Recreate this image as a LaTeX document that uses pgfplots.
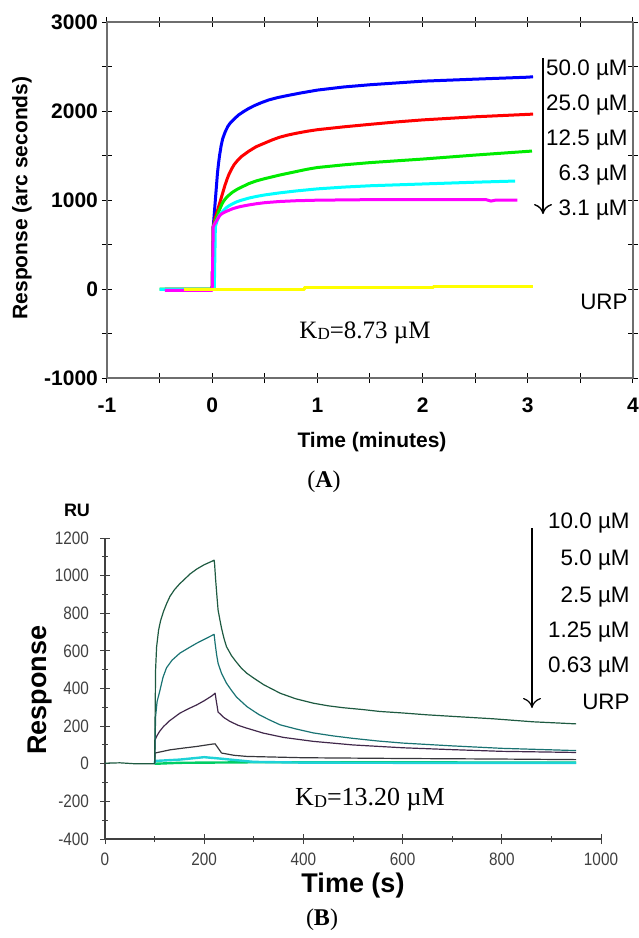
\documentclass[border=0pt]{standalone}
\usepackage{fontspec}
\setmainfont{Liberation Sans}
\newfontfamily\tnr{Liberation Serif}
\newfontfamily\narrowf[FakeStretch=0.85]{Liberation Sans}
\usepackage{pgfplots}
\pgfplotsset{compat=1.18}
\usetikzlibrary{arrows.meta}

\definecolor{bA}{RGB}{0,0,255}
\definecolor{rA}{RGB}{255,0,0}
\definecolor{gA}{RGB}{0,235,0}
\definecolor{cA}{RGB}{0,255,255}
\definecolor{mA}{RGB}{255,0,255}
\definecolor{yA}{RGB}{255,255,0}
\definecolor{axgray}{RGB}{110,110,110}
\definecolor{c10}{RGB}{30,90,65}
\definecolor{c5}{RGB}{25,115,115}
\definecolor{c25}{RGB}{65,40,75}
\definecolor{c125}{RGB}{55,55,60}
\definecolor{c063}{RGB}{30,210,215}
\definecolor{curp}{RGB}{0,205,100}

\begin{document}
\begin{tikzpicture}
\useasboundingbox (0,0) rectangle (319pt,-469pt);

% ---- panel A
\begin{axis}[
    at={(53.5pt,-11pt)}, anchor=north west,
    scale only axis, width=263pt, height=178pt,
    xmin=-1, xmax=4, ymin=-1000, ymax=3000,
    xtick={-1,0,...,4}, ytick={-1000,0,...,3000},
    minor x tick num=1, minor y tick num=1,
    tick align=center, major tick length=5pt, minor tick length=5pt,
    axis line style={axgray, line width=0.6pt},
    tick style={black, line width=0.5pt},
    ticklabel style={font=\bfseries\fontsize{10.5}{12}\selectfont},
    xticklabel style={yshift=-4pt},
    yticklabel style={xshift=1.5pt},
    /pgf/number format/assume math mode=true,
    /pgf/number format/1000 sep={},
    clip=false,
    line join=round,
]
\draw[axgray, line width=1.2pt] (rel axis cs:0,0) -- (rel axis cs:0,1);
\addplot[bA, line width=1.5pt] coordinates {(-0.45,-5) (0,-5) (0.01,700) (0.02,850) (0.03,1000) (0.04,1150) (0.05,1300) (0.06,1410) (0.07,1500) (0.085,1610) (0.1,1690) (0.125,1770) (0.15,1830) (0.175,1870) (0.2,1900) (0.25,1955) (0.3,1995) (0.35,2030) (0.4,2060) (0.47,2095) (0.54,2125) (0.62,2150) (0.7,2170) (0.83,2200) (1.0,2235) (1.25,2270) (1.5,2295) (1.75,2315) (2.0,2335) (2.5,2358) (3.0,2380) (3.05,2385)};
\addplot[rA, line width=1.5pt] coordinates {(-0.45,-5) (0,-5) (0.01,700) (0.03,800) (0.05,880) (0.07,960) (0.085,1020) (0.1,1080) (0.12,1160) (0.14,1230) (0.16,1290) (0.185,1350) (0.21,1400) (0.245,1450) (0.28,1490) (0.35,1550) (0.42,1600) (0.5,1640) (0.57,1675) (0.64,1705) (0.72,1730) (0.8,1750) (0.9,1772) (1.0,1790) (1.25,1822) (1.5,1850) (1.75,1877) (2.0,1900) (2.5,1935) (3.05,1965)};
\addplot[gA, line width=1.5pt] coordinates {(-0.5,0) (0,0) (0.01,700) (0.03,770) (0.05,830) (0.065,880) (0.08,920) (0.095,960) (0.11,990) (0.13,1020) (0.15,1045) (0.19,1085) (0.23,1115) (0.27,1140) (0.35,1185) (0.42,1215) (0.5,1240) (0.64,1280) (0.8,1320) (0.9,1345) (1.0,1365) (1.25,1395) (1.5,1420) (2.0,1460) (2.5,1505) (3.04,1550)};
\addplot[cA, line width=1.5pt] coordinates {(-0.5,-5) (0.02,-5) (0.03,700) (0.045,760) (0.06,805) (0.075,835) (0.09,860) (0.11,885) (0.13,910) (0.16,935) (0.19,955) (0.23,978) (0.27,995) (0.35,1022) (0.42,1040) (0.5,1057) (0.64,1080) (0.8,1102) (1.0,1125) (1.25,1145) (1.5,1160) (2.0,1180) (2.5,1200) (2.88,1213)};
\addplot[mA, line width=1.5pt] coordinates {(-0.45,-15) (0,-15) (0.01,700) (0.02,725) (0.03,745) (0.05,785) (0.065,815) (0.08,835) (0.1,852) (0.13,870) (0.16,885) (0.19,900) (0.23,915) (0.27,927) (0.35,945) (0.42,958) (0.5,970) (0.64,983) (0.8,992) (1.0,998) (1.5,1004) (2.0,1005) (2.6,1005) (2.65,988) (2.7,1000) (2.9,1000)};
\addplot[yA, line width=1.5pt] coordinates {(-0.27,0) (0.88,0) (0.88,12) (2.1,12) (2.1,25) (3.05,25)};
\end{axis}

% ---- panel B
\begin{axis}[
    at={(52.5pt,-269pt)}, anchor=north west,
    scale only axis, width=248pt, height=150.5pt,
    xmin=0, xmax=1000, ymin=-400, ymax=1200,
    axis x line=bottom, axis y line=left,
    xtick={0,200,...,1000}, ytick={-400,-200,...,1200},
    minor x tick num=1, minor y tick num=1,
    tick align=center, major tick length=5pt, minor tick length=3pt,
    axis line style={-, black!75, line width=0.6pt},
    tick style={black!75, line width=0.5pt},
    ticklabel style={font=\narrowf\fontsize{9}{10}\selectfont, text=black!75},
    xticklabel style={yshift=-1pt},
    yticklabel style={xshift=-2pt},
    /pgf/number format/assume math mode=true,
    /pgf/number format/1000 sep={},
    clip=false,
    line join=round,
]
\addplot[curp, line width=1.2pt] coordinates {(100,0) (101,0) (150,5) (300,8) (500,8) (700,7) (950,6)};
\addplot[c063, line width=1.2pt] coordinates {(100,0) (101,15) (150,22) (200,35) (230,28) (300,10) (400,6) (600,5) (950,5)};
\addplot[c125, line width=0.6pt] coordinates {(100,0) (101,57) (131,74) (160,84) (185,92) (215,104) (222,106) (235,57) (260,45) (286,39) (400,32) (600,28) (800,25) (950,22)};
\addplot[c25, line width=0.6pt] coordinates {(100,0) (101,127) (105,150) (110,172) (118,198) (130,228) (151,269) (168,292) (185,313) (200,335) (215,360) (222,375) (224,340) (228,275) (240,245) (252,225) (268,205) (285,190) (319,163) (360,140) (420,119) (500,100) (600,85) (700,75) (800,66) (950,60)};
\addplot[c5, line width=0.6pt] coordinates {(100,0) (102,250) (105,330) (111,393) (117,460) (124,510) (135,550) (151,588) (168,615) (185,641) (203,665) (220,688) (222,640) (225,580) (228,534) (235,480) (245,428) (255,390) (265,355) (286,304) (310,262) (330,235) (353,207) (385,185) (420,164) (460,148) (500,135) (550,121) (600,110) (700,95) (800,82) (950,70)};
\addplot[c10, line width=0.6pt] coordinates {(0,3) (30,5) (60,0) (100,0) (102,500) (104,620) (108,710) (112,760) (118,810) (124,850) (131,890) (140,925) (150,955) (160,980) (172,1010) (185,1035) (200,1058) (212,1072) (220,1082) (221,1060) (223,980) (226,880) (228,817) (232,760) (235,720) (240,665) (245,622) (255,575) (265,540) (275,508) (286,481) (300,455) (320,420) (340,393) (353,375) (385,345) (420,322) (450,308) (480,298) (520,288) (554,278) (600,270) (650,260) (700,252) (783,239) (863,223) (950,212)};
\end{axis}

% ---- annotations (pixel grid of the reference)
\begin{scope}[x=0.5pt, y=-0.5pt]
\node[rotate=90, font=\bfseries\fontsize{10.5}{12}\selectfont] at (22,198) {Response (arc seconds)};
\node[font=\bfseries\fontsize{10.5}{12}\selectfont] at (372,442) {Time (minutes)};
\node[font=\tnr\fontsize{12}{14}\selectfont] at (324,482) {(\textbf{A})};
\node[font=\tnr\fontsize{12.5}{14}\selectfont] at (365,333) {K\raisebox{-0.6pt}{\fontsize{8.5}{9}\selectfont D}=8.73 µM};
\begin{scope}[font=\fontsize{11.2}{12}\selectfont, inner sep=0pt]
\node[anchor=east] at (628,70) {50.0 µM};
\node[anchor=east] at (628,105) {25.0 µM};
\node[anchor=east] at (628,140) {12.5 µM};
\node[anchor=east] at (628,175) {6.3 µM};
\node[anchor=east] at (628,210) {3.1 µM};
\node[anchor=east] at (628,302) {URP};
\end{scope}
\draw[-{To[length=5pt,width=9pt]}, line width=0.7pt] (543,58) -- (543,214);

\node[font=\bfseries\fontsize{9}{10}\selectfont] at (77,510) {RU};
\node[rotate=90, font=\bfseries\fontsize{13.5}{15}\selectfont] at (40,690) {Response};
\node[font=\bfseries\fontsize{13.5}{15}\selectfont] at (353,886) {Time (s)};
\node[font=\tnr\fontsize{12}{14}\selectfont] at (322,920) {(\textbf{B})};
\node[font=\tnr\fontsize{13}{15}\selectfont] at (370,800) {K\raisebox{-0.6pt}{\fontsize{9}{10}\selectfont D}=13.20 µM};
\begin{scope}[font=\fontsize{11.2}{12}\selectfont, inner sep=0pt]
\node[anchor=east] at (630,523) {10.0 µM};
\node[anchor=east] at (630,560) {5.0 µM};
\node[anchor=east] at (630,597) {2.5 µM};
\node[anchor=east] at (630,632) {1.25 µM};
\node[anchor=east] at (630,667) {0.63 µM};
\node[anchor=east] at (630,702) {URP};
\end{scope}
\draw[-{To[length=5pt,width=9pt]}, line width=0.6pt] (532,528) -- (532,708);
\end{scope}
\end{tikzpicture}
\end{document}
